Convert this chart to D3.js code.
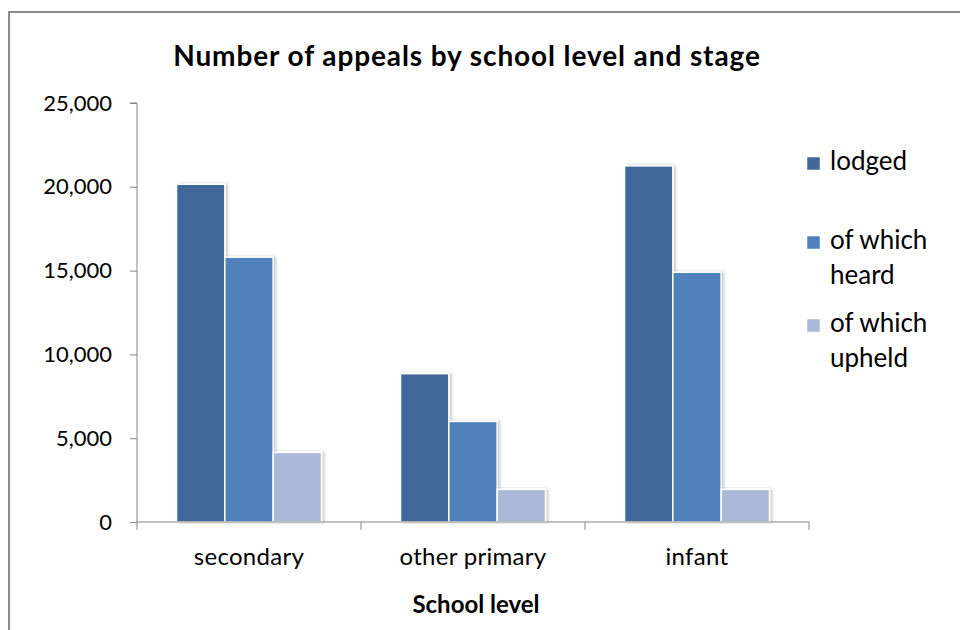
<!DOCTYPE html>
<html>
<head>
<meta charset="utf-8">
<script src="https://cdn.jsdelivr.net/npm/d3@7"></script>
<style>
  body { margin: 0; background: #fff; }
  text { font-family: Lato, "Open Sans", sans-serif; fill: #000; }
</style>
</head>
<body>
<script>
const width = 960;
const height = 630;

// data
const categories = ["secondary", "other primary", "infant"];
const seriesNames = ["lodged", "of which heard", "of which upheld"];
const lodged = [20150, 8850, 21250];
const heard = [15800, 6000, 14900];
const upheld = [4150, 1950, 1950];
const yTicks = [0, 5000, 10000, 15000, 20000, 25000];
const colors = ["#3f6899", "#4f81bd", "#aab9d8"];

const seriesValues = [lodged, heard, upheld];
const rows = categories.map((c, i) => ({
  name: c,
  values: seriesNames.map((s, j) => ({ key: s, value: seriesValues[j][i], idx: j }))
}));

const svg = d3.select("body").append("svg")
  .attr("width", width)
  .attr("height", height);

const defs = svg.append("defs");
const shadow = defs.append("filter")
  .attr("id", "shadow")
  .attr("x", "-20%").attr("y", "-5%")
  .attr("width", "150%").attr("height", "110%");
shadow.append("feDropShadow")
  .attr("dx", 2).attr("dy", 0)
  .attr("stdDeviation", 1.6)
  .attr("flood-color", "#000")
  .attr("flood-opacity", 0.22);

// outer frame (only left and top visible in the crop)
svg.append("rect")
  .attr("x", 9).attr("y", 12)
  .attr("width", 1000).attr("height", 700)
  .attr("fill", "none")
  .attr("stroke", "#8c8c8c")
  .attr("stroke-width", 2);

const plot = { left: 137, right: 809, top: 103, bottom: 522 };

const x0 = d3.scaleBand()
  .domain(categories)
  .range([plot.left, plot.right]);

const x1 = d3.scaleBand()
  .domain(seriesNames)
  .range([39.5, x0.bandwidth() - 39.5]);

const y = d3.scaleLinear()
  .domain([0, 25000])
  .range([plot.bottom, plot.top]);

// bars
const groups = svg.append("g").selectAll("g")
  .data(rows)
  .join("g")
  .attr("transform", d => `translate(${x0(d.name)},0)`);

groups.selectAll("rect")
  .data(d => d.values)
  .join("rect")
  .attr("x", d => x1(d.key))
  .attr("y", d => y(d.value))
  .attr("width", x1.bandwidth())
  .attr("height", d => y(0) - y(d.value))
  .attr("fill", d => colors[d.idx])
  .attr("stroke", "#fff")
  .attr("stroke-width", 1.5)
  .attr("filter", "url(#shadow)");

// y axis
const yAxis = svg.append("g")
  .attr("transform", `translate(${plot.left},0)`)
  .call(d3.axisLeft(y).tickValues(yTicks).tickSize(7).tickPadding(18)
    .tickFormat(d3.format(",")));
yAxis.selectAll("line, path").attr("stroke", "#868686");
yAxis.select(".domain").attr("d", `M-7,${plot.top}H0V${plot.bottom}`);
yAxis.selectAll("text")
  .style("font-size", "22px")
  .attr("fill", "#000");

// x axis
const xAxis = svg.append("g")
  .attr("transform", `translate(0,${plot.bottom})`);
xAxis.append("line")
  .attr("x1", plot.left).attr("x2", plot.right)
  .attr("stroke", "#868686");
xAxis.selectAll(".tick")
  .data(categories.concat([null]))
  .join("line")
  .attr("x1", (d, i) => i < categories.length ? x0(d) : plot.right)
  .attr("x2", (d, i) => i < categories.length ? x0(d) : plot.right)
  .attr("y1", 0).attr("y2", 8)
  .attr("stroke", "#868686");
xAxis.selectAll(".lbl")
  .data(categories)
  .join("text")
  .attr("x", d => x0(d) + x0.bandwidth() / 2)
  .attr("y", 43)
  .attr("text-anchor", "middle")
  .style("font-size", "24px")
  .style("letter-spacing", "0.3px")
  .text(d => d);

// titles
svg.append("text")
  .attr("x", 467).attr("y", 66)
  .attr("text-anchor", "middle")
  .style("font-size", "28px")
  .style("font-weight", "bold")
  .style("letter-spacing", "0.9px")
  .text("Number of appeals by school level and stage");

svg.append("text")
  .attr("x", 476).attr("y", 613)
  .attr("text-anchor", "middle")
  .style("font-size", "24px")
  .style("font-weight", "bold")
  .text("School level");

// legend
const legendTop = [157, 236, 319];
const legend = svg.append("g");
seriesNames.forEach((s, i) => {
  const g = legend.append("g").attr("transform", `translate(807,${legendTop[i]})`);
  g.append("rect")
    .attr("width", 13).attr("height", 13)
    .attr("fill", colors[i])
    .attr("stroke", "#fff")
    .attr("stroke-width", 0.5);
  const lines = s.startsWith("of which") ? ["of which", s.slice(9)] : [s];
  lines.forEach((ln, k) => {
    g.append("text")
      .attr("x", 23)
      .attr("y", 13 + k * 35)
      .style("font-size", "26px")
      .text(ln);
  });
});
</script>
</body>
</html>
